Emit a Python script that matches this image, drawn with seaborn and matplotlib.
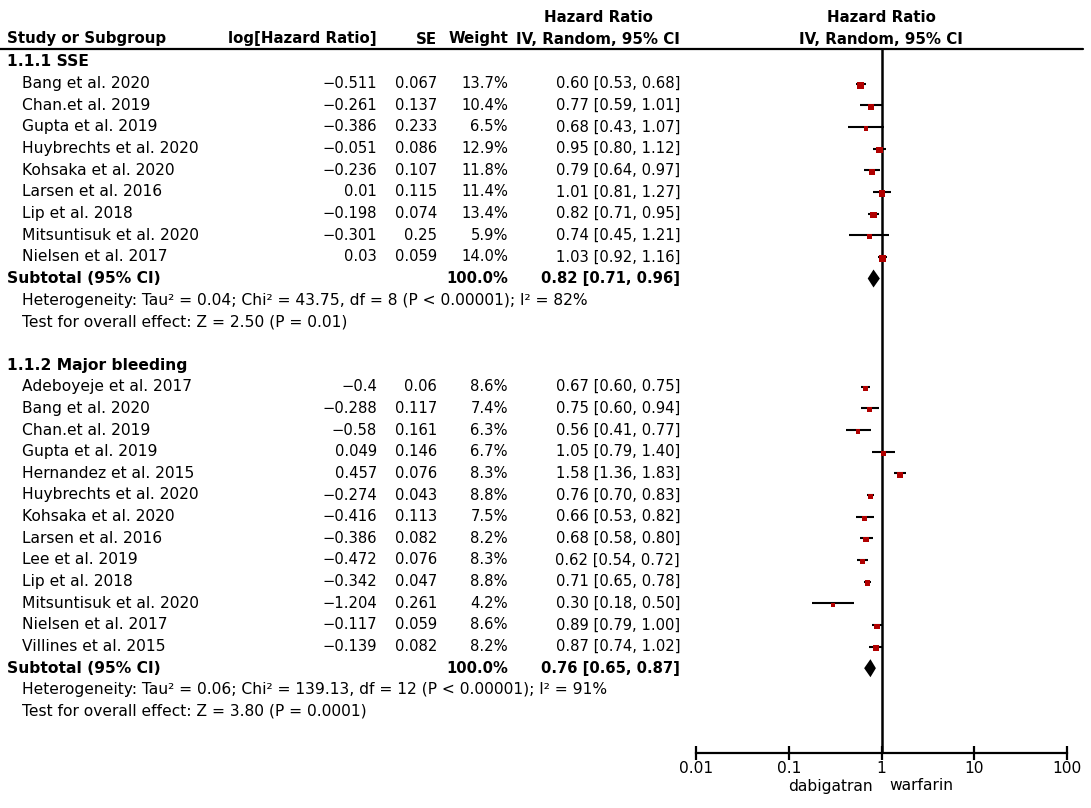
import pandas as pd
import numpy as np
import matplotlib
matplotlib.use("Agg")
import matplotlib.pyplot as plt
import seaborn as sns

# ---- data ----
names_sse = ["Bang et al. 2020", "Chan.et al. 2019", "Gupta et al. 2019",
             "Huybrechts et al. 2020", "Kohsaka et al. 2020", "Larsen et al. 2016",
             "Lip et al. 2018", "Mitsuntisuk et al. 2020", "Nielsen et al. 2017"]
loghr_sse = [-0.511, -0.261, -0.386, -0.051, -0.236, 0.01, -0.198, -0.301, 0.03]
se_sse = [0.067, 0.137, 0.233, 0.086, 0.107, 0.115, 0.074, 0.25, 0.059]
weight_sse = [13.7, 10.4, 6.5, 12.9, 11.8, 11.4, 13.4, 5.9, 14.0]
hr_sse = [0.60, 0.77, 0.68, 0.95, 0.79, 1.01, 0.82, 0.74, 1.03]
lo_sse = [0.53, 0.59, 0.43, 0.80, 0.64, 0.81, 0.71, 0.45, 0.92]
hi_sse = [0.68, 1.01, 1.07, 1.12, 0.97, 1.27, 0.95, 1.21, 1.16]
total_sse = [0.82, 0.71, 0.96]
het_sse = "Heterogeneity: Tau² = 0.04; Chi² = 43.75, df = 8 (P < 0.00001); I² = 82%"
test_sse = "Test for overall effect: Z = 2.50 (P = 0.01)"

names_mb = ["Adeboyeje et al. 2017", "Bang et al. 2020", "Chan.et al. 2019",
            "Gupta et al. 2019", "Hernandez et al. 2015", "Huybrechts et al. 2020",
            "Kohsaka et al. 2020", "Larsen et al. 2016", "Lee et al. 2019",
            "Lip et al. 2018", "Mitsuntisuk et al. 2020", "Nielsen et al. 2017",
            "Villines et al. 2015"]
loghr_mb = [-0.4, -0.288, -0.58, 0.049, 0.457, -0.274, -0.416, -0.386, -0.472,
            -0.342, -1.204, -0.117, -0.139]
se_mb = [0.06, 0.117, 0.161, 0.146, 0.076, 0.043, 0.113, 0.082, 0.076, 0.047,
         0.261, 0.059, 0.082]
weight_mb = [8.6, 7.4, 6.3, 6.7, 8.3, 8.8, 7.5, 8.2, 8.3, 8.8, 4.2, 8.6, 8.2]
hr_mb = [0.67, 0.75, 0.56, 1.05, 1.58, 0.76, 0.66, 0.68, 0.62, 0.71, 0.30, 0.89, 0.87]
lo_mb = [0.60, 0.60, 0.41, 0.79, 1.36, 0.70, 0.53, 0.58, 0.54, 0.65, 0.18, 0.79, 0.74]
hi_mb = [0.75, 0.94, 0.77, 1.40, 1.83, 0.83, 0.82, 0.80, 0.72, 0.78, 0.50, 1.00, 1.02]
total_mb = [0.76, 0.65, 0.87]
het_mb = "Heterogeneity: Tau² = 0.06; Chi² = 139.13, df = 12 (P < 0.00001); I² = 91%"
test_mb = "Test for overall effect: Z = 3.80 (P = 0.0001)"

ticks = [0.01, 0.1, 1, 10, 100]
tick_labels = ["0.01", "0.1", "1", "10", "100"]

# ---- layout (pixel units, figure is 1091 x 808) ----
W, H = 1091, 808
ROW0, STEP = 62, 21.65
AX_Y = 753
HEAD_Y = 49

def row_y(i):
    return ROW0 + STEP * i

def fmt(v):
    return f"{v:g}".replace("-", "\u2212")

sns.set_style("white")
plt.rcParams["font.family"] = ["DejaVu Sans"]
plt.rcParams["text.color"] = "black"
plt.rcParams["xtick.color"] = "black"
FS = 11.2    # words
FN = 10.6    # numbers
FB = 10.8    # bold header

fig = plt.figure(figsize=(W / 100, H / 100), dpi=100)
ax = fig.add_axes([0, 0, 1, 1])
ax.set_xlim(0, W)
ax.set_ylim(H, 0)
ax.axis("off")

# forest axes: log scale, same pixel mapping vertically
fx0, fx1 = 696, 1067
fax = fig.add_axes([fx0 / W, (H - AX_Y) / H, (fx1 - fx0) / W, (AX_Y - HEAD_Y) / H])
fax.set_xscale("log")
fax.set_xlim(0.01, 100)
fax.set_ylim(AX_Y, HEAD_Y)
fax.patch.set_alpha(0)
for s in ["left", "right", "top"]:
    fax.spines[s].set_visible(False)
fax.spines["bottom"].set_linewidth(1.6)
fax.spines["bottom"].set_color("black")
fax.set_yticks([])
fax.set_xticks(ticks)
fax.set_xticklabels(tick_labels, fontsize=FN + 0.6)
fax.xaxis.set_minor_locator(matplotlib.ticker.NullLocator())
fax.tick_params(axis="x", bottom=True, direction="inout", length=10, width=1.6,
                pad=1, colors="black")
fax.axvline(1, color="black", lw=1.8)

# header
ax.plot([0, 1083], [HEAD_Y, HEAD_Y], color="black", lw=1.6)
hy1, hy2 = 17, 39
bold = dict(fontsize=FB, fontweight="bold", va="center")
ax.text(7, hy2, "Study or Subgroup", ha="left", **bold)
ax.text(377, hy2, "log[Hazard Ratio]", ha="right", **bold)
ax.text(437, hy2, "SE", ha="right", **bold)
ax.text(508, hy2, "Weight", ha="right", **bold)
ax.text(598, hy1, "Hazard Ratio", ha="center", **bold)
ax.text(680, hy2, "IV, Random, 95% CI", ha="right", **bold)
ax.text(881, hy1, "Hazard Ratio", ha="center", **bold)
ax.text(881, hy2, "IV, Random, 95% CI", ha="center", **bold)

groups = [
    ("1.1.1 SSE", names_sse, loghr_sse, se_sse, weight_sse, hr_sse, lo_sse, hi_sse,
     total_sse, het_sse, test_sse),
    ("1.1.2 Major bleeding", names_mb, loghr_mb, se_mb, weight_mb, hr_mb, lo_mb, hi_mb,
     total_mb, het_mb, test_mb),
]

rows = []
r = 0
norm = dict(fontsize=FS, va="center")
num = dict(fontsize=FN, va="center", ha="right")
numb = dict(fontsize=FN, va="center", ha="right", fontweight="bold")
subb = dict(fontsize=FS, va="center", ha="left", fontweight="bold")
for title, names, lg, se, wt, hr, lo, hi, tot, het, test in groups:
    ax.text(7, row_y(r), title, **subb)
    r += 1
    for k in range(len(names)):
        y = row_y(r)
        ax.text(22, y, names[k], ha="left", **norm)
        ax.text(377, y, fmt(lg[k]), **num)
        ax.text(437, y, fmt(se[k]), **num)
        ax.text(508, y, f"{wt[k]:.1f}%", **num)
        ax.text(680, y, f"{hr[k]:.2f} [{lo[k]:.2f}, {hi[k]:.2f}]", **num)
        rows.append(dict(y=y, hr=hr[k], lo=lo[k], hi=hi[k], weight=wt[k]))
        r += 1
    y = row_y(r)
    ax.text(7, y, "Subtotal (95% CI)", **subb)
    ax.text(508, y, "100.0%", **numb)
    ax.text(680, y, f"{tot[0]:.2f} [{tot[1]:.2f}, {tot[2]:.2f}]", **numb)
    # diamond
    fax.fill([tot[1], tot[0], tot[2], tot[0]], [y, y - 9, y, y + 9],
             color="black", lw=0)
    r += 1
    ax.text(22, row_y(r), het, ha="left", **norm)
    r += 1
    ax.text(22, row_y(r), test, ha="left", **norm)
    r += 2

df = pd.DataFrame(rows)
fax.hlines(df["y"], df["lo"], df["hi"], color="black", lw=1.5)
df["ysq"] = df["y"] + 1.5
sns.scatterplot(data=df, x="hr", y="ysq", size="weight", sizes=(4.2 * 1.8, 14.0 * 1.8),
                size_norm=(4.2, 14.0), marker="s", color="#b00000", edgecolor="none",
                legend=False, ax=fax, zorder=3)
fax.set_xlabel("")
fax.set_ylabel("")
fax.set_ylim(AX_Y, HEAD_Y)

ax.text(873, 786, "dabigatran", ha="right", **norm)
ax.text(889, 786, "warfarin", ha="left", **norm)

fig.savefig("out.png", dpi=100)
